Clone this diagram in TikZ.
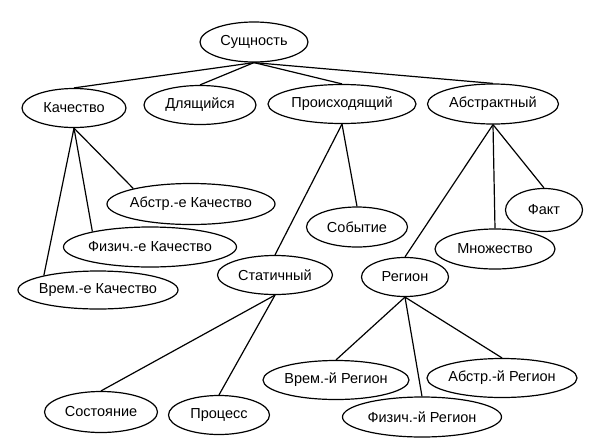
\documentclass[tikz,border=0pt]{standalone}
\usepackage{fontspec}
\setmainfont{Liberation Sans}
\usetikzlibrary{shapes.geometric}
\newcommand\ctr[1]{\makebox[0pt][c]{#1}}
\tikzset{
  ent/.style={ellipse, draw, line width=1.2pt, inner sep=0pt, fill=white,
    font=\fontsize{14.5}{17}\selectfont},
  link/.style={line width=1.2pt},
}
\begin{document}
\begin{tikzpicture}[x=1pt,y=-1pt]
\useasboundingbox (0,0) rectangle (598,440);
\node[ent, minimum width=108pt, minimum height=40pt] (sush) at (254,42) {\ctr{Сущность}};
\node[ent, minimum width=104pt, minimum height=39pt] (kach) at (74,108) {\ctr{Качество}};
\node[ent, minimum width=112pt, minimum height=39pt] (dly) at (200,105) {\ctr{Длящийся}};
\node[ent, minimum width=148pt, minimum height=39pt] (proish) at (342,104) {\ctr{Происходящий}};
\node[ent, minimum width=131pt, minimum height=40pt] (abstr) at (493,104) {\ctr{Абстрактный}};
\node[ent, minimum width=168pt, minimum height=41pt] (abk) at (191,204) {\ctr{Абстр.-е Качество}};
\node[ent, minimum width=173pt, minimum height=40pt] (fizk) at (150,247) {\ctr{Физич.-е Качество}};
\node[ent, minimum width=160pt, minimum height=38pt] (vremk) at (98,290) {\ctr{Врем.-е Качество}};
\node[ent, minimum width=101pt, minimum height=40pt] (sob) at (357,227) {\ctr{Событие}};
\node[ent, minimum width=115pt, minimum height=39pt] (stat) at (275,275) {\ctr{Статичный}};
\node[ent, minimum width=113pt, minimum height=41pt] (sost) at (101,412) {\ctr{Состояние}};
\node[ent, minimum width=101pt, minimum height=39pt] (proc) at (219,415) {\ctr{Процесс}};
\node[ent, minimum width=87pt, minimum height=39pt] (reg) at (405,277) {\ctr{Регион}};
\node[ent, minimum width=120pt, minimum height=40pt] (mnoj) at (495,249) {\ctr{Множество}};
\node[ent, minimum width=77pt, minimum height=43pt] (fakt) at (544,210) {\ctr{Факт}};
\node[ent, minimum width=146pt, minimum height=39pt] (vremr) at (336,380) {\ctr{Врем.-й Регион}};
\node[ent, minimum width=150pt, minimum height=39pt] (abstrr) at (502,378) {\ctr{Абстр.-й Регион}};
\node[ent, minimum width=159pt, minimum height=40pt] (fizr) at (422,417) {\ctr{Физич.-й Регион}};
\foreach \c in {kach,dly,proish,abstr} \draw[link] (sush.south) -- (\c.north);
\foreach \c in {abk,fizk,vremk} \draw[link] (kach.south) -- (\c.165);
\foreach \c in {stat,sob} \draw[link] (proish.south) -- (\c.north);
\foreach \c in {sost,proc} \draw[link] (stat.south) -- (\c.north);
\foreach \c in {reg,mnoj,fakt} \draw[link] (abstr.south) -- (\c.north);
\foreach \c in {vremr,fizr,abstrr} \draw[link] (reg.south) -- (\c.north);
\end{tikzpicture}
\end{document}
